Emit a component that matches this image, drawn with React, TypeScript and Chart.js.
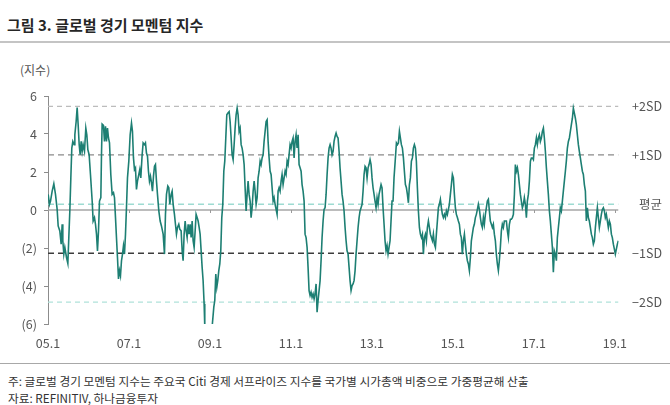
import React, { useEffect, useRef } from 'react';
import { Chart, registerables } from 'chart.js';

Chart.register(...registerables);

const FONT = "'Noto Sans CJK KR', 'Noto Sans', sans-serif";

// Dates as decimal years, values of the global economic momentum index
const dates: number[] = [
  // 2005
  2005.004, 2005.037, 2005.062, 2005.103, 2005.144, 2005.185, 2005.226, 2005.251, 2005.292, 2005.325,
  2005.350, 2005.366, 2005.391, 2005.416, 2005.457, 2005.490, 2005.514, 2005.539, 2005.564, 2005.588,
  2005.613, 2005.646, 2005.663, 2005.695, 2005.720, 2005.745, 2005.770, 2005.794, 2005.819, 2005.844,
  2005.868, 2005.901, 2005.934, 2005.959, 2005.984,
  // 2006
  2006.016, 2006.049, 2006.091, 2006.115, 2006.148, 2006.173, 2006.198, 2006.222, 2006.247, 2006.272,
  2006.305, 2006.321, 2006.337, 2006.370, 2006.395, 2006.420, 2006.444, 2006.469, 2006.494, 2006.519,
  2006.551, 2006.584, 2006.617, 2006.642, 2006.667, 2006.691, 2006.716, 2006.741, 2006.765, 2006.790,
  2006.815, 2006.840, 2006.864, 2006.889, 2006.914, 2006.938, 2006.963, 2006.996,
  // 2007
  2007.029, 2007.062, 2007.086, 2007.111, 2007.136, 2007.160, 2007.185, 2007.210, 2007.243, 2007.267,
  2007.292, 2007.325, 2007.350, 2007.383, 2007.407, 2007.432, 2007.457, 2007.481, 2007.506, 2007.531,
  2007.556, 2007.580, 2007.605, 2007.630, 2007.654, 2007.679, 2007.704, 2007.737, 2007.770,
  2007.802, 2007.844, 2007.877, 2007.901, 2007.926, 2007.959, 2007.984,
  // 2008
  2008.008, 2008.041, 2008.066, 2008.091, 2008.123, 2008.148, 2008.173, 2008.198, 2008.230, 2008.255,
  2008.288, 2008.313, 2008.337, 2008.362, 2008.387, 2008.412, 2008.436, 2008.461, 2008.486, 2008.510,
  2008.535, 2008.560, 2008.584, 2008.609, 2008.634, 2008.658, 2008.683, 2008.708, 2008.733, 2008.757,
  2008.782, 2008.807, 2008.831, 2008.856, 2008.872, 2008.897, 2008.971,
  // 2009
  2009.053, 2009.095, 2009.119, 2009.144, 2009.169, 2009.193, 2009.218, 2009.243, 2009.267, 2009.292,
  2009.317, 2009.342, 2009.366, 2009.391, 2009.416, 2009.440, 2009.473, 2009.498, 2009.523, 2009.547,
  2009.572, 2009.597, 2009.621, 2009.646, 2009.671, 2009.695, 2009.720, 2009.745, 2009.770, 2009.794,
  2009.819, 2009.844, 2009.868, 2009.893, 2009.918, 2009.942, 2009.967, 2009.992,
  // 2010
  2010.016, 2010.041, 2010.066, 2010.091, 2010.115, 2010.140, 2010.165, 2010.189, 2010.214, 2010.239,
  2010.263, 2010.288, 2010.313, 2010.337, 2010.362, 2010.387, 2010.412, 2010.436, 2010.461, 2010.486,
  2010.510, 2010.535, 2010.560, 2010.584, 2010.609,
  2010.658, 2010.683, 2010.707, 2010.732, 2010.757, 2010.781, 2010.806, 2010.831, 2010.856, 2010.880,
  2010.905, 2010.930, 2010.954, 2010.979,
  // 2011
  2011.004, 2011.028, 2011.053, 2011.078, 2011.102, 2011.127, 2011.152, 2011.177, 2011.201, 2011.226,
  2011.251, 2011.275, 2011.300, 2011.325, 2011.349, 2011.374, 2011.399, 2011.423, 2011.448, 2011.473,
  2011.497, 2011.522, 2011.547, 2011.572, 2011.596, 2011.621, 2011.646, 2011.670, 2011.695, 2011.720,
  2011.744, 2011.769, 2011.794, 2011.818, 2011.843, 2011.868, 2011.893, 2011.917, 2011.942, 2011.967,
  2011.991,
  // 2012
  2012.016, 2012.041, 2012.065, 2012.090, 2012.115, 2012.139, 2012.164, 2012.189, 2012.213, 2012.238,
  2012.263, 2012.287, 2012.312, 2012.337, 2012.362, 2012.386, 2012.411, 2012.436, 2012.460, 2012.485,
  2012.510, 2012.534, 2012.559, 2012.584, 2012.608, 2012.633, 2012.658, 2012.683, 2012.707, 2012.732,
  2012.757, 2012.781, 2012.806, 2012.831, 2012.855, 2012.880, 2012.905, 2012.929, 2012.954, 2012.979,
  // 2013
  2013.003, 2013.028, 2013.053, 2013.077, 2013.102, 2013.127, 2013.152, 2013.176, 2013.201, 2013.226,
  2013.250, 2013.275, 2013.300, 2013.324, 2013.349, 2013.374, 2013.398, 2013.423, 2013.448, 2013.472,
  2013.497, 2013.522, 2013.546,
  2013.580, 2013.605, 2013.630, 2013.654, 2013.679, 2013.703, 2013.728, 2013.753, 2013.778, 2013.802,
  2013.827, 2013.852, 2013.876, 2013.901, 2013.926, 2013.950, 2013.975,
  // 2014
  2014.000, 2014.024, 2014.049, 2014.074, 2014.098, 2014.123, 2014.148, 2014.173, 2014.197, 2014.222,
  2014.247, 2014.271, 2014.296, 2014.321, 2014.345, 2014.370, 2014.395, 2014.419, 2014.444, 2014.469,
  2014.494, 2014.518, 2014.543, 2014.568, 2014.592, 2014.617, 2014.642, 2014.666, 2014.691, 2014.716,
  2014.740, 2014.765, 2014.790, 2014.815, 2014.839, 2014.864, 2014.889, 2014.913, 2014.938, 2014.963,
  2014.987,
  // 2015
  2015.012, 2015.037, 2015.061, 2015.086, 2015.111, 2015.135, 2015.160, 2015.185, 2015.209, 2015.234,
  2015.259, 2015.284, 2015.308, 2015.333, 2015.358, 2015.382, 2015.407, 2015.432, 2015.456, 2015.481,
  2015.506, 2015.530, 2015.555, 2015.580, 2015.605, 2015.629, 2015.654, 2015.679, 2015.703, 2015.728,
  2015.753, 2015.777, 2015.802, 2015.827, 2015.851, 2015.876, 2015.901, 2015.925, 2015.950, 2015.975,
  2015.999,
  // 2016
  2016.024, 2016.049, 2016.073, 2016.098, 2016.123, 2016.147, 2016.172, 2016.197, 2016.221, 2016.246,
  2016.271,
  2016.321, 2016.346, 2016.370, 2016.395, 2016.420, 2016.444, 2016.469, 2016.494, 2016.519, 2016.543,
  2016.568, 2016.593, 2016.617, 2016.642, 2016.667, 2016.691, 2016.716, 2016.741, 2016.765, 2016.790,
  2016.815, 2016.839, 2016.864, 2016.889, 2016.914, 2016.938, 2016.963, 2016.988,
  // 2017
  2017.012, 2017.037, 2017.062, 2017.086, 2017.111, 2017.136, 2017.160, 2017.185, 2017.210, 2017.235,
  2017.259, 2017.284, 2017.309, 2017.333, 2017.358, 2017.383, 2017.407, 2017.432, 2017.457, 2017.481,
  2017.506, 2017.531, 2017.556, 2017.580, 2017.605, 2017.630, 2017.654, 2017.679, 2017.704, 2017.728,
  2017.753, 2017.778, 2017.802, 2017.827, 2017.852, 2017.877, 2017.901, 2017.926, 2017.951, 2017.975,
  // 2018
  2018.000, 2018.025, 2018.049, 2018.074, 2018.099, 2018.123, 2018.148, 2018.173, 2018.198, 2018.222,
  2018.247, 2018.272, 2018.296, 2018.321, 2018.346, 2018.370, 2018.395, 2018.420, 2018.444, 2018.469,
  2018.494, 2018.519, 2018.543, 2018.568, 2018.593, 2018.617, 2018.642, 2018.667, 2018.691, 2018.716,
  2018.741, 2018.765, 2018.790, 2018.815, 2018.839, 2018.864, 2018.889, 2018.914, 2018.938, 2018.963,
  2018.988,
  // 2019
  2019.012, 2019.037, 2019.062, 2019.086,
];

const values: number[] = [
  // 2005
  0.82, 0.30, 0.47, 0.99, 1.38, 0.82, 0.03, -0.84, -1.10, -1.80,
  -0.75, -1.62, -2.32, -1.97, -2.50, -2.81, -1.45, -0.05, 1.69, 3.26,
  3.61, 3.44, 3.96, 4.66, 5.39, 4.49, 3.44, 2.91, 3.61, 3.09,
  3.44, 3.09, 4.31, 3.96, 3.18,
  // 2006
  2.91, 1.87, 0.47, -0.58, -0.40, -0.75, -1.27, -2.15, -1.10, 0.47,
  0.65, 2.91, 4.52, 4.45, 3.61, 4.40, 3.61, 4.31, 3.79, 3.53,
  1.87, 0.82, 0.91, 0.65, -0.40, -1.45, -2.50, -3.63, -3.19, -3.46,
  -2.67, -2.32, -1.88, -2.32, -1.27, 0.12, 1.69, 2.57,
  // 2007
  3.96, 4.57, 4.14, 2.74, 2.13, 2.22, 1.08, 1.52, 1.87, 2.13,
  1.69, 2.91, 3.53, 3.44, 3.53, 3.00, 2.83, 2.04, 1.52, 1.78,
  1.43, 0.99, 1.78, 2.30, 2.39, 1.52, 0.82, -0.05, -0.58,
  -0.84, -1.27, -2.32, -0.23, 0.82, 1.26, 1.17,
  // 2008
  0.30, 0.82, 0.99, 0.30, -0.23, -0.75, -1.27, -0.92, -0.75, -1.01,
  -1.10, -2.15, -2.67, -1.27, -0.58, -1.10, -1.45, -0.75, -1.27, -0.75,
  -1.45, -0.58, -1.62, -1.97, -1.10, -0.23, -0.40, -0.58, -0.92, -1.27,
  -2.15, -3.02, -3.72, -4.94, -6.16, -6.86, -7.00,
  // 2009
  -6.16, -5.11, -4.76, -3.37, -4.07, -3.72, -3.19, -2.84, -2.15, -0.40,
  0.30, 2.04, 2.57, 3.79, 5.01, 5.10, 5.18, 4.66, 3.79, 2.91,
  2.65, 3.44, 4.31, 5.01, 5.36, 5.01, 4.14, 4.31, 3.44, 3.26,
  2.91, 2.39, 1.17, -0.05, 0.82, 1.52, 0.82, 0.47,
  // 2010
  -0.40, 0.12, 0.99, 1.52, 0.99, 0.30, 0.65, 1.69, 2.04, 2.57,
  2.39, 2.74, 2.91, 3.61, 4.14, 4.66, 4.75, 3.61, 2.74, 2.04,
  1.87, 1.17, 0.47, 0.65, 0.30,
  -0.23, 0.99, 1.17, 0.99, 1.52, 1.87, 1.34, 1.69, 2.04, 1.87,
  2.57, 2.39, 2.91, 3.44,
  // 2011
  3.26, 3.61, 3.79, 2.74, 3.61, 3.96, 3.26, 3.96, 2.39, 2.22,
  2.04, 1.34, 0.99, 0.47, -1.27, -1.45, -1.97, -3.02, -4.24, -4.50,
  -4.33, -4.59, -4.42, -4.68, -4.42, -3.89, -5.38, -4.76, -4.24, -3.72,
  -2.67, -1.45, -0.58, 0.03, 0.12, 0.82, 1.87, 2.74, 3.26, 3.44,
  3.26,
  // 2012
  2.91, 3.09, 3.61, 3.87, 4.05, 3.87, 3.79, 3.09, 2.22, 1.52,
  0.82, 0.47, -0.05, -0.92, -1.62, -2.15, -2.32, -3.02, -3.72, -4.24,
  -3.98, -3.89, -3.72, -3.19, -2.32, -1.62, -0.92, -0.40, -0.05, 0.12,
  0.30, 0.99, 1.87, 2.30, 2.22, 1.69, 2.22, 2.39, 2.65, 2.39,
  // 2013
  1.69, 1.17, 0.82, 0.47, 0.12, 0.65, 0.30, 0.82, 1.08, 1.34,
  1.17, 0.12, -0.75, -1.62, -2.15, -1.88, -2.32, -1.97, -1.62, -0.58,
  0.47, 0.47, 1.69,
  2.74, 3.53, 3.44, 3.53, 4.14, 3.79, 3.44, 3.26, 2.74, 2.04,
  1.34, 1.17, 0.82, 0.38, 1.34, 1.69, 2.57,
  // 2014
  2.74, 3.26, 3.44, 3.26, 2.57, 1.17, -0.05, -0.92, -1.27, -1.45,
  -1.27, -2.32, -1.45, -1.27, -1.62, -0.92, -0.58, -0.92, -1.27, -1.45,
  -1.62, -1.27, -1.80, -1.97, -1.27, -0.58, 0.12, 0.30, 0.56, 0.12,
  -0.23, -0.40, -0.23, -0.40, -0.05, -0.23, 0.03, 0.30, 0.82, 1.34,
  1.87,
  // 2015
  1.69, 0.82, 0.12, -0.23, -0.40, -0.58, -0.75, -1.27, -1.45, -2.32,
  -1.62, -1.27, -1.80, -2.32, -2.67, -2.84, -3.19, -2.50, -1.62, -1.27,
  -0.92, -0.75, -0.40, -0.23, 0.03, 0.30, 0.03, -0.40, -0.75, -0.92,
  -0.40, -0.75, -0.23, 0.12, 0.47, 0.56, -0.05, -0.58, -0.75, -0.92,
  -0.75,
  // 2016
  -1.27, -1.62, -2.32, -2.84, -3.19, -2.67, -1.97, -1.10, -0.75, -0.92,
  -0.58,
  -0.58, -1.10, -1.45, -0.75, -0.49, -0.49, -0.40, -0.23, 0.82, 2.39,
  2.04, 2.22, 1.87, 1.34, 0.82, 0.47, 0.12, 0.30, 0.65, 0.30,
  -0.40, 0.47, 0.82, 1.52, 2.57, 2.74, 2.74, 2.65,
  // 2017
  3.26, 3.44, 3.79, 3.44, 3.79, 3.96, 3.61, 3.79, 4.14, 4.31,
  3.79, 3.09, 2.22, 1.52, 0.82, -0.05, -0.58, -1.27, -1.97, -3.28,
  -2.15, -2.32, -2.67, -1.45, -0.92, -0.40, 0.12, -0.05, 0.47, 0.99,
  1.52, 2.04, 2.57, 3.26, 3.61, 3.79, 4.14, 4.49, 4.83, 5.36,
  // 2018
  5.10, 4.83, 4.49, 3.96, 3.44, 3.09, 2.74, 2.39, 2.04, 1.87,
  1.34, 0.99, -0.58, 0.12, -0.40, -0.58, -0.92, -1.27, -1.45, -1.80,
  -1.62, -0.92, -0.40, 0.12, -0.40, -0.92, -0.58, -0.23, 0.03, 0.12,
  -0.05, -0.40, -0.23, -0.58, -0.92, -0.58, -0.75, -1.27, -1.45, -1.80,
  -2.06,
  // 2019
  -2.32, -2.06, -1.80, -1.62,
];

// Statistical reference levels (+2SD, +1SD, mean, -1SD, -2SD)
const sdLevels: number[] = [5.45, 2.9, 0.3, -2.28, -4.85];
const sdLabels: string[] = ['+2SD', '+1SD', '평균', '−1SD', '−2SD'];
const zeroLevel = 0;

const yTicks: number[] = [6, 4, 2, 0, -2, -4, -6];
const xTickYears: number[] = [2005, 2007, 2009, 2011, 2013, 2015, 2017, 2019];
const xTickLabels: string[] = ['05.1', '07.1', '09.1', '11.1', '13.1', '15.1', '17.1', '19.1'];
const xMin = 2005;
const xMax = 2019.09;

const refStyles = [
  { color: '#bcbcbc', dash: [5, 4], width: 1.2 },
  { color: '#8a8a8a', dash: [6, 4], width: 1.2 },
  { color: '#9edbd2', dash: [6, 4], width: 1.5 },
  { color: '#3c3c3c', dash: [6, 4], width: 1.5 },
  { color: '#b0e2da', dash: [5, 4], width: 1.2 },
];

const overlayPlugin = {
  id: 'overlay',
  afterDatasetsDraw(chart: any) {
    const { ctx, scales } = chart;
    const x = scales.x;
    const y = scales.y;
    ctx.save();
    const y0 = y.getPixelForValue(zeroLevel);
    ctx.strokeStyle = '#9a9a9a';
    ctx.lineWidth = 1;
    xTickYears.slice(1).forEach((v) => {
      const px = Math.round(x.getPixelForValue(v)) + 0.5;
      ctx.beginPath();
      ctx.moveTo(px, y0);
      ctx.lineTo(px, y0 + 3);
      ctx.stroke();
    });
    ctx.font = `12.5px ${FONT}`;
    ctx.fillStyle = '#555555';
    ctx.textAlign = 'right';
    ctx.textBaseline = 'middle';
    sdLevels.forEach((lv, i) => {
      ctx.fillText(sdLabels[i], 662, y.getPixelForValue(lv));
    });
    ctx.restore();
  },
};

function MomentumChart() {
  const ref = useRef<HTMLCanvasElement | null>(null);
  useEffect(() => {
    if (!ref.current) return;
    const mainData = dates.map((d, i) => ({ x: d, y: values[i] }));
    const refSets = sdLevels.map((lv, i) => ({
      data: [{ x: xMin, y: lv }, { x: xMax, y: lv }],
      borderColor: refStyles[i].color,
      borderDash: refStyles[i].dash,
      borderWidth: refStyles[i].width,
      pointRadius: 0,
      order: 2,
    }));
    const chart = new Chart(ref.current, {
      type: 'line',
      data: {
        datasets: [
          {
            data: mainData,
            borderColor: '#1d7f73',
            borderWidth: 1.6,
            pointRadius: 0,
            tension: 0,
            order: 0,
          },
          {
            data: [{ x: xMin, y: zeroLevel }, { x: xMax, y: zeroLevel }],
            borderColor: '#a6a6a6',
            borderWidth: 1.6,
            pointRadius: 0,
            order: 1,
          },
          ...refSets,
        ] as any,
      },
      options: {
        responsive: false,
        maintainAspectRatio: false,
        animation: false,
        layout: { padding: { top: 16, right: 51.5, left: 0, bottom: 0 } },
        plugins: { legend: { display: false }, tooltip: { enabled: false } },
        scales: {
          x: {
            type: 'linear',
            min: xMin,
            max: xMax,
            afterBuildTicks: (s: any) => {
              s.ticks = xTickYears.map((v) => ({ value: v }));
            },
            afterFit: (s: any) => {
              s.height = 36;
            },
            ticks: {
              autoSkip: false,
              maxRotation: 0,
              minRotation: 0,
              padding: 12,
              color: '#555555',
              font: { family: FONT, size: 12.5 },
              callback: (_v: any, i: number) => xTickLabels[i],
            },
            grid: { display: false, drawTicks: false },
            border: { display: false },
          },
          y: {
            min: -6,
            max: 6,
            afterBuildTicks: (s: any) => {
              s.ticks = yTicks.map((v) => ({ value: v }));
            },
            afterFit: (s: any) => {
              s.width = 48;
            },
            ticks: {
              padding: 7,
              color: '#555555',
              font: { family: FONT, size: 12.5 },
              callback: (v: any) => (v < 0 ? `(${-v})` : `${v}`),
            },
            grid: { drawOnChartArea: false, drawTicks: true, tickLength: 4, color: '#8c8c8c' },
            border: { display: true, color: '#8c8c8c', width: 1 },
          },
        },
      } as any,
      plugins: [overlayPlugin],
    });
    return () => chart.destroy();
  }, []);
  return <canvas ref={ref} width={670} height={280} style={{ position: 'absolute', left: 0, top: 80, width: 670, height: 280 }} />;
}

export default function App() {
  return (
    <div
      style={{
        position: 'absolute',
        left: 0,
        top: 0,
        width: 670,
        height: 405,
        background: '#ffffff',
        fontFamily: FONT,
        overflow: 'hidden',
      }}
    >
      <div style={{ position: 'absolute', left: 7, top: 15, fontSize: 15, lineHeight: '20px', fontWeight: 700, color: '#262626', whiteSpace: 'nowrap' }}>
        그림 3. 글로벌 경기 모멘텀 지수
      </div>
      <div style={{ position: 'absolute', left: 0, top: 41, width: 670, height: 2, background: '#c4c4c4' }} />
      <div style={{ position: 'absolute', left: 20, top: 62, fontSize: 12, lineHeight: '16px', color: '#555555' }}>(지수)</div>
      <MomentumChart />
      <div style={{ position: 'absolute', left: 0, top: 363, width: 670, height: 1, background: '#a8a8a8' }} />
      <div style={{ position: 'absolute', left: 8, top: 374, fontSize: 11.7, lineHeight: '14px', color: '#333333', whiteSpace: 'nowrap' }}>
        주: 글로벌 경기 모멘텀 지수는 주요국 Citi 경제 서프라이즈 지수를 국가별 시가총액 비중으로 가중평균해 산출
      </div>
      <div style={{ position: 'absolute', left: 8, top: 391, fontSize: 11.7, lineHeight: '14px', color: '#333333', whiteSpace: 'nowrap' }}>
        자료: REFINITIV, 하나금융투자
      </div>
    </div>
  );
}
